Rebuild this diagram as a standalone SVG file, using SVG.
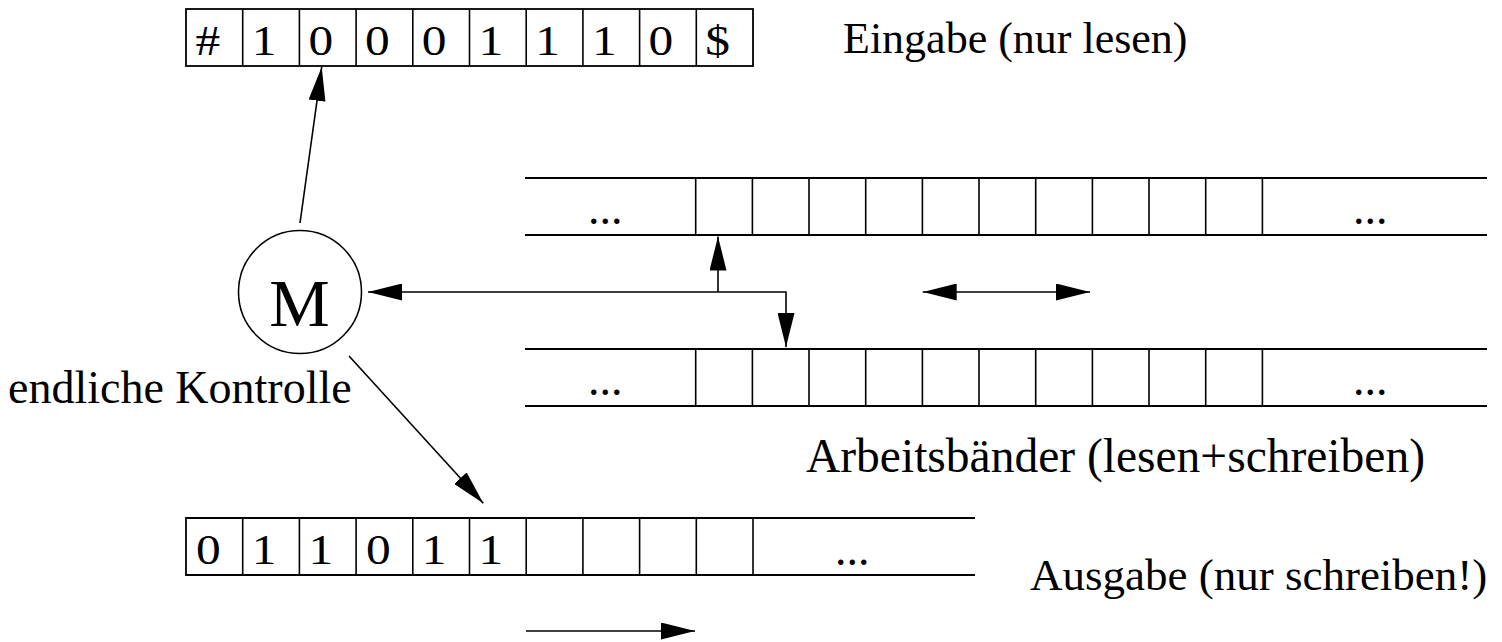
<svg xmlns="http://www.w3.org/2000/svg" width="1502" height="642" viewBox="0 0 1502 642">
<style>
.ln{stroke:#000;stroke-width:1.8;fill:none}
.cell{stroke:#000;stroke-width:1.6;fill:none}
.t{font-family:"Liberation Serif","Times New Roman",serif;fill:#000}
.d{font-size:43px}
.lab{font-size:46px}
.dots{font-size:46px}
.con{stroke:#000;stroke-width:1.6;fill:none}
</style>
<defs>
<marker id="ah" markerUnits="userSpaceOnUse" markerWidth="34" markerHeight="17" refX="34" refY="8.5" orient="auto-start-reverse">
<path d="M0,0 L34,8.5 L0,17 Z" fill="#000"/>
</marker>
</defs>
<rect width="1502" height="642" fill="#fff"/>

<g id="input-tape">
<rect x="186" y="9" width="567" height="57" class="ln"/>
<path class="cell" d="M242.7,9V66M299.4,9V66M356.1,9V66M412.8,9V66M469.5,9V66M526.2,9V66M582.9,9V66M639.6,9V66M696.3,9V66"/>
<g class="t d">
<text transform="matrix(1.15 0 0 1 195.5 55)">#</text>
<text transform="matrix(1.15 0 0 1 251.7 55)">1</text>
<text transform="matrix(1.15 0 0 1 308.4 55)">0</text>
<text transform="matrix(1.15 0 0 1 365.1 55)">0</text>
<text transform="matrix(1.15 0 0 1 421.8 55)">0</text>
<text transform="matrix(1.15 0 0 1 478.5 55)">1</text>
<text transform="matrix(1.15 0 0 1 535.2 55)">1</text>
<text transform="matrix(1.15 0 0 1 591.9 55)">1</text>
<text transform="matrix(1.15 0 0 1 648.6 55)">0</text>
<text transform="matrix(1.15 0 0 1 705.3 55)">$</text>
</g>
<text class="t" x="843" y="53" font-size="44">Eingabe (nur lesen)</text>
</g>

<g id="work-tape-1">
<path class="ln" d="M525,178H1487M525,235H1487"/>
<path class="cell" d="M695.7,178V235M752.4,178V235M809,178V235M865.7,178V235M922.4,178V235M979,178V235M1035.7,178V235M1092.4,178V235M1149,178V235M1205.7,178V235M1262.4,178V235"/>
<text class="t dots" x="588" y="224">...</text>
<text class="t dots" x="1353" y="224">...</text>
</g>

<g id="work-tape-2">
<path class="ln" d="M525,349H1487M525,406H1487"/>
<path class="cell" d="M695.7,349V406M752.4,349V406M809,349V406M865.7,349V406M922.4,349V406M979,349V406M1035.7,349V406M1092.4,349V406M1149,349V406M1205.7,349V406M1262.4,349V406"/>
<text class="t dots" x="588" y="395">...</text>
<text class="t dots" x="1353" y="395">...</text>
<text class="t" x="806" y="472" font-size="47.5">Arbeitsbänder (lesen+schreiben)</text>
</g>

<g id="control">
<circle cx="300" cy="292" r="61.5" class="cell"/>
<text class="t" x="299.5" y="326" font-size="68" text-anchor="middle">M</text>
<text class="t lab" x="8" y="403">endliche Kontrolle</text>
</g>

<g id="output-tape">
<path class="ln" d="M975,518H186V575H975"/>
<path class="cell" d="M242.7,518V575M299.4,518V575M356.1,518V575M412.8,518V575M469.5,518V575M526.2,518V575M582.9,518V575M639.6,518V575M696.3,518V575M753,518V575"/>
<g class="t d">
<text transform="matrix(1.15 0 0 1 196 564)">0</text>
<text transform="matrix(1.15 0 0 1 251.7 564)">1</text>
<text transform="matrix(1.15 0 0 1 308.4 564)">1</text>
<text transform="matrix(1.15 0 0 1 366.1 564)">0</text>
<text transform="matrix(1.15 0 0 1 421.8 564)">1</text>
<text transform="matrix(1.15 0 0 1 478.5 564)">1</text>
</g>
<text class="t dots" x="835" y="565">...</text>
<text class="t" x="1030" y="590" font-size="45">Ausgabe (nur schreiben!)</text>
</g>

<g id="connectors">
<line class="con" x1="300" y1="223" x2="321.7" y2="67" marker-end="url(#ah)"/>
<path class="con" d="M368,292H786V347" marker-start="url(#ah)" marker-end="url(#ah)"/>
<line class="con" x1="718" y1="292" x2="718" y2="236.5" marker-end="url(#ah)"/>
<line class="con" x1="922.7" y1="292" x2="1090" y2="292" marker-start="url(#ah)" marker-end="url(#ah)"/>
<line class="con" x1="349" y1="356" x2="483.3" y2="503.3" marker-end="url(#ah)"/>
<line class="con" x1="526" y1="631" x2="695" y2="631" marker-end="url(#ah)"/>
</g>
</svg>
